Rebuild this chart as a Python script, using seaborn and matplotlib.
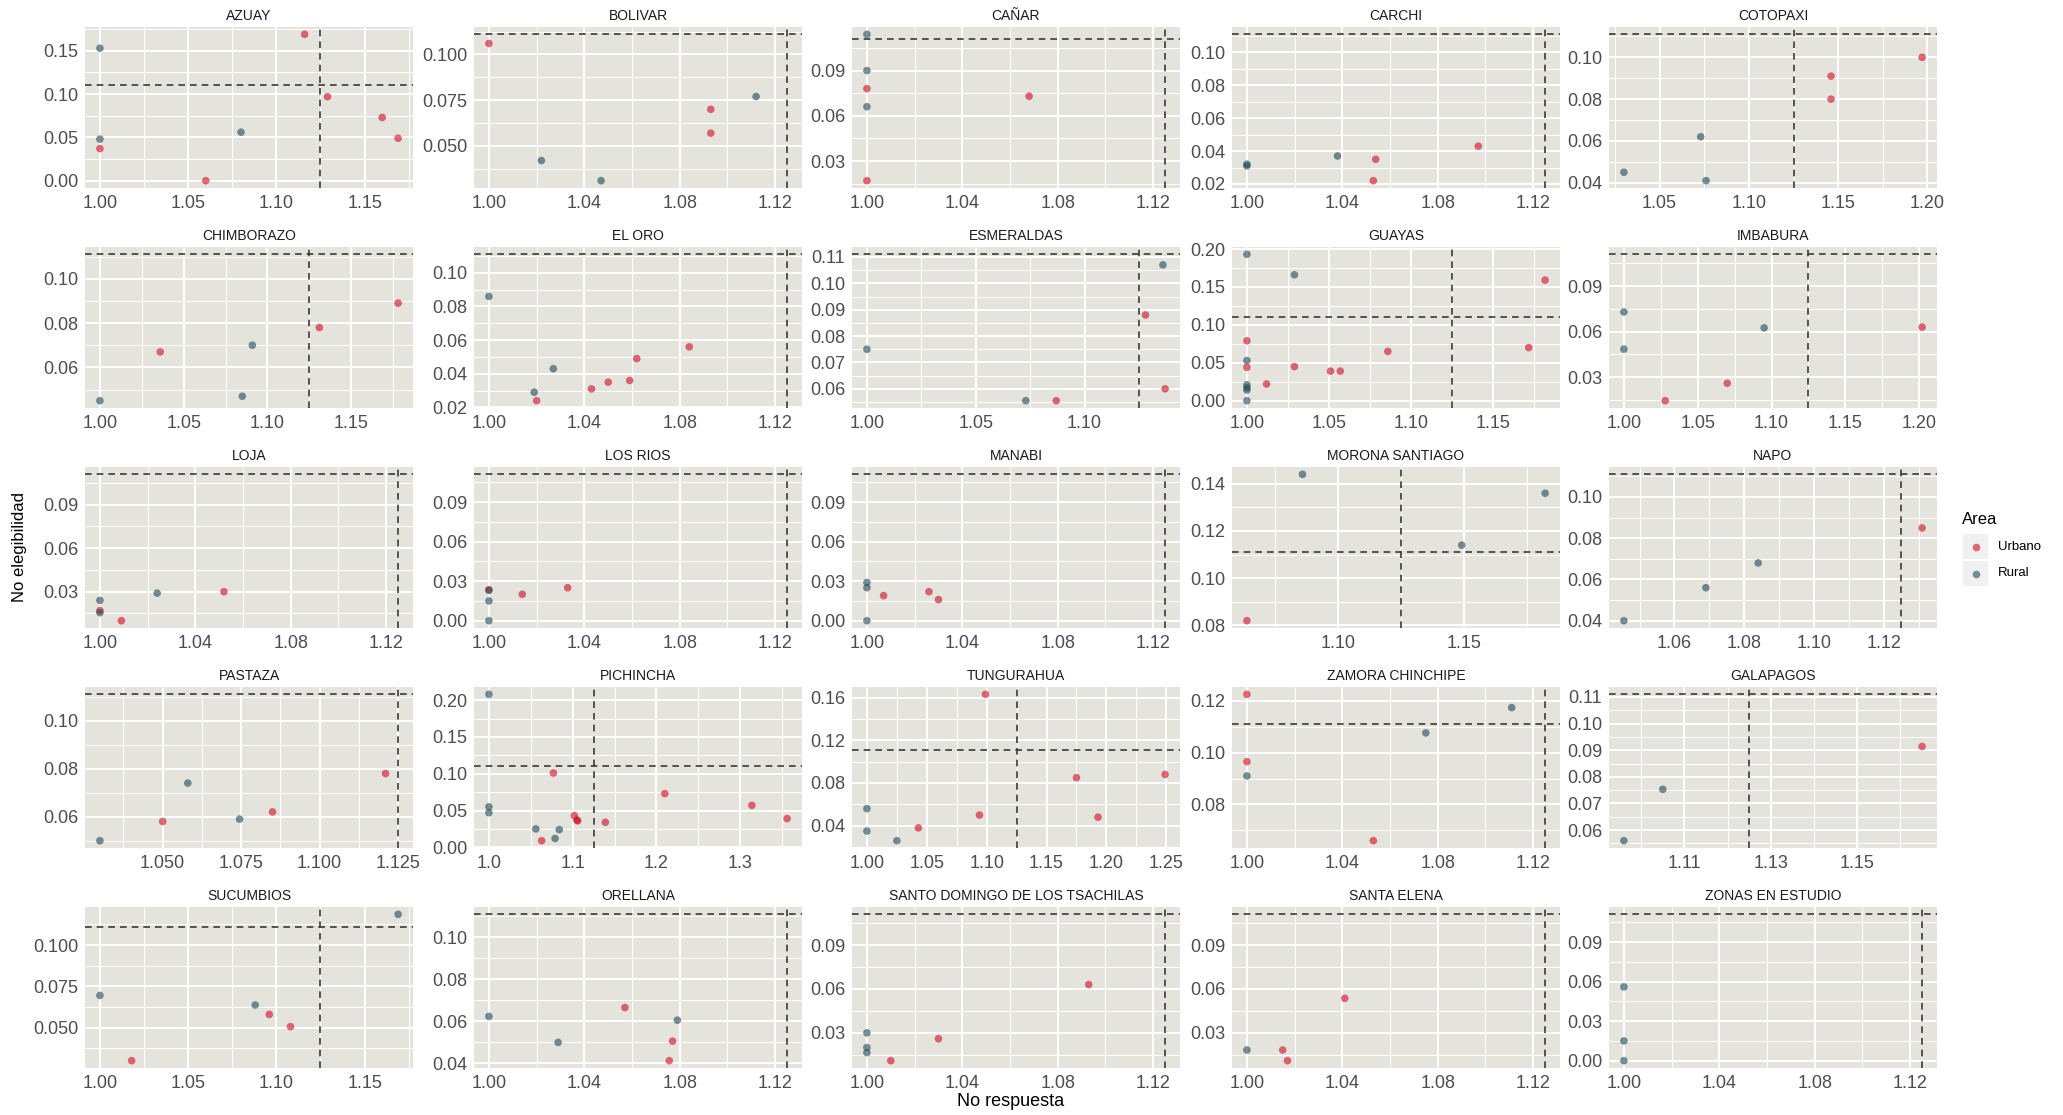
import matplotlib
matplotlib.use("Agg")
import matplotlib.pyplot as plt
from matplotlib import font_manager
from matplotlib.lines import Line2D
from matplotlib.patches import Rectangle
import numpy as np
import pandas as pd
import seaborn as sns

# ---------------------------------------------------------------------------
# Data: non-response ratio (x) vs non-eligibility rate (y) by province and area
# ---------------------------------------------------------------------------
provincias = [
    "AZUAY", "BOLIVAR", "CAÑAR", "CARCHI", "COTOPAXI",
    "CHIMBORAZO", "EL ORO", "ESMERALDAS", "GUAYAS", "IMBABURA",
    "LOJA", "LOS RIOS", "MANABI", "MORONA SANTIAGO", "NAPO",
    "PASTAZA", "PICHINCHA", "TUNGURAHUA", "ZAMORA CHINCHIPE", "GALAPAGOS",
    "SUCUMBIOS", "ORELLANA", "SANTO DOMINGO DE LOS TSACHILAS", "SANTA ELENA",
    "ZONAS EN ESTUDIO",
]

# U = Urbano, R = Rural (one letter per point)
area_codes = {
    "AZUAY": "UUUUUURRR",
    "BOLIVAR": "UUURRR",
    "CAÑAR": "UUURRR",
    "CARCHI": "UUURRR",
    "COTOPAXI": "UUURRR",
    "CHIMBORAZO": "UUURRR",
    "EL ORO": "UUUUUURRR",
    "ESMERALDAS": "UUURRR",
    "GUAYAS": "UUUUUUUUURRRRRRR",
    "IMBABURA": "UUURRR",
    "LOJA": "UUURRR",
    "LOS RIOS": "UUURRR",
    "MANABI": "UUURRR",
    "MORONA SANTIAGO": "URRR",
    "NAPO": "URRR",
    "PASTAZA": "UUURRR",
    "PICHINCHA": "UUUUUUUUURRRRRR",
    "TUNGURAHUA": "UUUUUURRR",
    "ZAMORA CHINCHIPE": "UUURRR",
    "GALAPAGOS": "URR",
    "SUCUMBIOS": "UUURRR",
    "ORELLANA": "UUURRR",
    "SANTO DOMINGO DE LOS TSACHILAS": "UUURRR",
    "SANTA ELENA": "UUUR",
    "ZONAS EN ESTUDIO": "RRR",
}

no_respuesta = {
    "AZUAY": [1.116, 1.129, 1.160, 1.169, 1.000, 1.060, 1.000, 1.000, 1.080],
    "BOLIVAR": [1.000, 1.093, 1.093, 1.112, 1.022, 1.047],
    "CAÑAR": [1.000, 1.068, 1.000, 1.000, 1.000, 1.000],
    "CARCHI": [1.054, 1.053, 1.097, 1.000, 1.000, 1.038],
    "COTOPAXI": [1.146, 1.146, 1.197, 1.030, 1.073, 1.076],
    "CHIMBORAZO": [1.036, 1.131, 1.178, 1.000, 1.091, 1.085],
    "EL ORO": [1.020, 1.043, 1.050, 1.059, 1.062, 1.084, 1.000, 1.019, 1.027],
    "ESMERALDAS": [1.087, 1.128, 1.137, 1.000, 1.073, 1.136],
    "GUAYAS": [1.000, 1.000, 1.012, 1.029, 1.051, 1.057, 1.086, 1.172, 1.182,
               1.000, 1.029, 1.000, 1.000, 1.000, 1.000, 1.000],
    "IMBABURA": [1.028, 1.070, 1.202, 1.000, 1.000, 1.095],
    "LOJA": [1.000, 1.009, 1.052, 1.000, 1.000, 1.024],
    "LOS RIOS": [1.000, 1.014, 1.033, 1.000, 1.000, 1.000],
    "MANABI": [1.007, 1.026, 1.030, 1.000, 1.000, 1.000],
    "MORONA SANTIAGO": [1.064, 1.086, 1.149, 1.182],
    "NAPO": [1.131, 1.0455, 1.069, 1.084],
    "PASTAZA": [1.050, 1.085, 1.121, 1.030, 1.058, 1.0745],
    "PICHINCHA": [1.077, 1.063, 1.102, 1.105, 1.106, 1.139, 1.210, 1.314, 1.356,
                  1.000, 1.000, 1.000, 1.056, 1.079, 1.084],
    "TUNGURAHUA": [1.043, 1.094, 1.099, 1.175, 1.193, 1.249, 1.000, 1.000, 1.025],
    "ZAMORA CHINCHIPE": [1.000, 1.000, 1.053, 1.000, 1.075, 1.111],
    "GALAPAGOS": [1.165, 1.096, 1.105],
    "SUCUMBIOS": [1.018, 1.096, 1.108, 1.000, 1.088, 1.169],
    "ORELLANA": [1.057, 1.077, 1.0756, 1.000, 1.029, 1.079],
    "SANTO DOMINGO DE LOS TSACHILAS": [1.010, 1.030, 1.093, 1.000, 1.000, 1.000],
    "SANTA ELENA": [1.015, 1.017, 1.041, 1.000],
    "ZONAS EN ESTUDIO": [1.000, 1.000, 1.000],
}

no_elegibilidad = {
    "AZUAY": [0.169, 0.097, 0.073, 0.049, 0.037, 0.000, 0.153, 0.048, 0.056],
    "BOLIVAR": [0.106, 0.070, 0.057, 0.077, 0.042, 0.031],
    "CAÑAR": [0.078, 0.073, 0.017, 0.114, 0.090, 0.066],
    "CARCHI": [0.035, 0.022, 0.043, 0.032, 0.031, 0.037],
    "COTOPAXI": [0.091, 0.080, 0.100, 0.045, 0.062, 0.041],
    "CHIMBORAZO": [0.067, 0.078, 0.089, 0.045, 0.070, 0.047],
    "EL ORO": [0.024, 0.031, 0.035, 0.036, 0.049, 0.056, 0.086, 0.029, 0.043],
    "ESMERALDAS": [0.0555, 0.088, 0.060, 0.075, 0.0555, 0.107],
    "GUAYAS": [0.079, 0.044, 0.022, 0.045, 0.039, 0.039, 0.065, 0.070, 0.159,
               0.193, 0.166, 0.053, 0.021, 0.017, 0.014, 0.000],
    "IMBABURA": [0.0145, 0.026, 0.063, 0.073, 0.0485, 0.0625],
    "LOJA": [0.017, 0.010, 0.030, 0.024, 0.0155, 0.029],
    "LOS RIOS": [0.0235, 0.020, 0.025, 0.023, 0.015, 0.000],
    "MANABI": [0.019, 0.022, 0.016, 0.029, 0.025, 0.000],
    "MORONA SANTIAGO": [0.082, 0.144, 0.114, 0.136],
    "NAPO": [0.085, 0.040, 0.056, 0.068],
    "PASTAZA": [0.058, 0.062, 0.078, 0.050, 0.074, 0.059],
    "PICHINCHA": [0.101, 0.009, 0.043, 0.037, 0.036, 0.034, 0.073, 0.057, 0.039,
                  0.208, 0.055, 0.047, 0.025, 0.012, 0.024],
    "TUNGURAHUA": [0.038, 0.050, 0.163, 0.085, 0.048, 0.088, 0.056, 0.035, 0.026],
    "ZAMORA CHINCHIPE": [0.1225, 0.0965, 0.066, 0.091, 0.1076, 0.1174],
    "GALAPAGOS": [0.0914, 0.056, 0.0753],
    "SUCUMBIOS": [0.030, 0.058, 0.0506, 0.0695, 0.0637, 0.1186],
    "ORELLANA": [0.0666, 0.0506, 0.0413, 0.0624, 0.050, 0.0606],
    "SANTO DOMINGO DE LOS TSACHILAS": [0.011, 0.026, 0.063, 0.030, 0.020, 0.0165],
    "SANTA ELENA": [0.0183, 0.011, 0.0536, 0.0183],
    "ZONAS EN ESTUDIO": [0.056, 0.015, 0.000],
}

# Reference thresholds drawn as dashed lines in every panel
umbral_no_respuesta = 1.125
umbral_no_elegibilidad = 0.111

# Axis breaks for each panel
x_breaks = {
    "AZUAY": [1.00, 1.05, 1.10, 1.15],
    "BOLIVAR": [1.00, 1.04, 1.08, 1.12],
    "CAÑAR": [1.00, 1.04, 1.08, 1.12],
    "CARCHI": [1.00, 1.04, 1.08, 1.12],
    "COTOPAXI": [1.05, 1.10, 1.15, 1.20],
    "CHIMBORAZO": [1.00, 1.05, 1.10, 1.15],
    "EL ORO": [1.00, 1.04, 1.08, 1.12],
    "ESMERALDAS": [1.00, 1.05, 1.10],
    "GUAYAS": [1.00, 1.05, 1.10, 1.15],
    "IMBABURA": [1.00, 1.05, 1.10, 1.15, 1.20],
    "LOJA": [1.00, 1.04, 1.08, 1.12],
    "LOS RIOS": [1.00, 1.04, 1.08, 1.12],
    "MANABI": [1.00, 1.04, 1.08, 1.12],
    "MORONA SANTIAGO": [1.10, 1.15],
    "NAPO": [1.06, 1.08, 1.10, 1.12],
    "PASTAZA": [1.050, 1.075, 1.100, 1.125],
    "PICHINCHA": [1.0, 1.1, 1.2, 1.3],
    "TUNGURAHUA": [1.00, 1.05, 1.10, 1.15, 1.20, 1.25],
    "ZAMORA CHINCHIPE": [1.00, 1.04, 1.08, 1.12],
    "GALAPAGOS": [1.11, 1.13, 1.15],
    "SUCUMBIOS": [1.00, 1.05, 1.10, 1.15],
    "ORELLANA": [1.00, 1.04, 1.08, 1.12],
    "SANTO DOMINGO DE LOS TSACHILAS": [1.00, 1.04, 1.08, 1.12],
    "SANTA ELENA": [1.00, 1.04, 1.08, 1.12],
    "ZONAS EN ESTUDIO": [1.00, 1.04, 1.08, 1.12],
}

y_breaks = {
    "AZUAY": [0.00, 0.05, 0.10, 0.15],
    "BOLIVAR": [0.050, 0.075, 0.100],
    "CAÑAR": [0.03, 0.06, 0.09],
    "CARCHI": [0.02, 0.04, 0.06, 0.08, 0.10],
    "COTOPAXI": [0.04, 0.06, 0.08, 0.10],
    "CHIMBORAZO": [0.06, 0.08, 0.10],
    "EL ORO": [0.02, 0.04, 0.06, 0.08, 0.10],
    "ESMERALDAS": [0.06, 0.07, 0.08, 0.09, 0.10, 0.11],
    "GUAYAS": [0.00, 0.05, 0.10, 0.15, 0.20],
    "IMBABURA": [0.03, 0.06, 0.09],
    "LOJA": [0.03, 0.06, 0.09],
    "LOS RIOS": [0.00, 0.03, 0.06, 0.09],
    "MANABI": [0.00, 0.03, 0.06, 0.09],
    "MORONA SANTIAGO": [0.08, 0.10, 0.12, 0.14],
    "NAPO": [0.04, 0.06, 0.08, 0.10],
    "PASTAZA": [0.06, 0.08, 0.10],
    "PICHINCHA": [0.00, 0.05, 0.10, 0.15, 0.20],
    "TUNGURAHUA": [0.04, 0.08, 0.12, 0.16],
    "ZAMORA CHINCHIPE": [0.08, 0.10, 0.12],
    "GALAPAGOS": [0.06, 0.07, 0.08, 0.09, 0.10, 0.11],
    "SUCUMBIOS": [0.050, 0.075, 0.100],
    "ORELLANA": [0.04, 0.06, 0.08, 0.10],
    "SANTO DOMINGO DE LOS TSACHILAS": [0.03, 0.06, 0.09],
    "SANTA ELENA": [0.03, 0.06, 0.09],
    "ZONAS EN ESTUDIO": [0.00, 0.03, 0.06, 0.09],
}

area_names = {"U": "Urbano", "R": "Rural"}
area_order = ["Urbano", "Rural"]
area_colors = {"Urbano": "#D20823", "Rural": "#204855"}

# ---------------------------------------------------------------------------
# Long table
# ---------------------------------------------------------------------------
rows = []
for prov in provincias:
    for code, xv, yv in zip(area_codes[prov], no_respuesta[prov], no_elegibilidad[prov]):
        rows.append({"provincia": prov, "area": area_names[code],
                     "no_respuesta": xv, "no_elegibilidad": yv})
df = pd.DataFrame(rows)

# ---------------------------------------------------------------------------
# Style
# ---------------------------------------------------------------------------
sns.set_theme(style="darkgrid")
plt.rcParams["font.family"] = ["Liberation Sans", "DejaVu Sans"]

available = {f.name for f in font_manager.fontManager.ttflist}
narrow = "Liberation Sans Narrow" if "Liberation Sans Narrow" in available else "Liberation Sans"

PANEL_BG = "#E4E4DD"
TICK_COLOR = "#4D4D4D"
LINE_COLOR = "#3A3A3A"

W, H = 2063, 1115
fig = plt.figure(figsize=(W / 100, H / 100), dpi=100)
fig.patch.set_facecolor("white")

col_left = [85, 474, 852, 1232, 1609]
row_top = [27, 247, 467, 687, 907]
panel_w, panel_h = 328, 161


def n_decimals(vals):
    for d in range(1, 5):
        if all(abs(round(v, d) - v) < 1e-9 for v in vals):
            return d
    return 4


def padded(vals, ref):
    lo, hi = min(min(vals), ref), max(max(vals), ref)
    pad = 0.05 * (hi - lo)
    return lo - pad, hi + pad


def minor_breaks(major, lim):
    step = major[1] - major[0]
    ext = [major[0] - step] + list(major) + [major[-1] + step]
    mids = [(a + b) / 2 for a, b in zip(ext[:-1], ext[1:])]
    return [m for m in mids if lim[0] <= m <= lim[1]]


for i, prov in enumerate(provincias):
    r, c = divmod(i, 5)
    rect = [col_left[c] / W, 1 - (row_top[r] + panel_h) / H, panel_w / W, panel_h / H]
    ax = fig.add_axes(rect)
    ax.set_facecolor(PANEL_BG)
    sub = df[df["provincia"] == prov]

    xlim = padded(sub["no_respuesta"].tolist(), umbral_no_respuesta)
    ylim = padded(sub["no_elegibilidad"].tolist(), umbral_no_elegibilidad)

    xb, yb = x_breaks[prov], y_breaks[prov]
    ax.set_xticks(xb)
    ax.set_yticks(yb)
    ax.set_xticks(minor_breaks(xb, xlim), minor=True)
    ax.set_yticks(minor_breaks(yb, ylim), minor=True)
    dx, dy = n_decimals(xb), n_decimals(yb)
    ax.set_xticklabels([f"{v:.{dx}f}" for v in xb])
    ax.set_yticklabels([f"{v:.{dy}f}" for v in yb])

    ax.grid(which="major", color="white", linewidth=1.4)
    ax.grid(which="minor", color="white", linewidth=0.7)
    ax.set_axisbelow(True)

    ax.axhline(umbral_no_elegibilidad, color=LINE_COLOR, linestyle=(0, (4, 3)),
               linewidth=1.2, zorder=3)
    ax.axvline(umbral_no_respuesta, color=LINE_COLOR, linestyle=(0, (4, 3)),
               linewidth=1.2, zorder=3)

    sns.scatterplot(data=sub, x="no_respuesta", y="no_elegibilidad", hue="area",
                    hue_order=area_order, palette=area_colors, s=30, alpha=0.6,
                    linewidth=0, legend=False, ax=ax, zorder=4)

    ax.set_xlim(xlim)
    ax.set_ylim(ylim)
    ax.set_xlabel("")
    ax.set_ylabel("")
    for sp in ax.spines.values():
        sp.set_visible(False)

    ax.tick_params(which="major", length=3, width=0.8, color="#333333",
                   labelsize=13, labelcolor=TICK_COLOR, pad=2)
    ax.tick_params(which="minor", length=0)
    for lab in ax.get_xticklabels() + ax.get_yticklabels():
        lab.set_family(narrow)

    ax.set_title(prov, fontsize=10, color="#1A1A1A", pad=5, family=narrow)

# Shared axis titles
fig.text(1011 / W, 1 - 1101 / H, "No respuesta", ha="center", va="center",
         fontsize=13, color="black", family=narrow)
fig.text(20 / W, 1 - 547 / H, "No elegibilidad", ha="center", va="center",
         rotation=90, fontsize=12, color="black")

# Legend
fig.text(1962 / W, 1 - 520 / H, "Area", ha="left", va="center", fontsize=12,
         color="black")
for k, name in enumerate(area_order):
    top = 534 + k * 27
    fig.add_artist(Rectangle((1963 / W, 1 - (top + 25) / H), 25 / W, 25 / H,
                             transform=fig.transFigure, facecolor="#F0F0F0",
                             edgecolor="none"))
    fig.add_artist(Line2D([1975.5 / W], [1 - (top + 12.5) / H], marker="o",
                          markersize=5.5, markeredgewidth=0,
                          markerfacecolor=area_colors[name], alpha=0.6,
                          linestyle="none", transform=fig.transFigure))
    fig.text(1998 / W, 1 - (top + 12.5) / H, name, ha="left", va="center",
             fontsize=9.5, color="black")

fig.savefig("out.png", dpi=100, facecolor="white")
